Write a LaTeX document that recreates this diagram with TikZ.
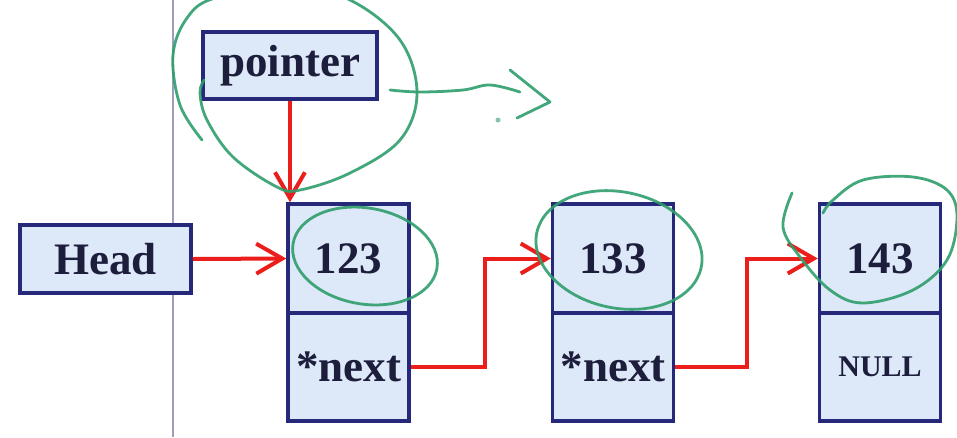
\documentclass[tikz,border=0pt]{standalone}
\usepackage{fontspec}
\setmainfont{Liberation Serif}
\usetikzlibrary{arrows.meta}
\definecolor{boxfill}{RGB}{221,232,248}
\definecolor{boxline}{RGB}{38,40,122}
\definecolor{txt}{RGB}{28,30,60}
\definecolor{redarrow}{RGB}{236,30,28}
\definecolor{pen}{RGB}{46,158,108}
\definecolor{rule}{RGB}{160,156,192}
\begin{document}
\begin{tikzpicture}[x=1pt,y=-1pt,
  cell/.style={draw=boxline,line width=3.5pt,fill=boxfill,text=txt,inner sep=0pt,
    font=\fontsize{45}{50}\selectfont\bfseries},
  link/.style={draw=redarrow,line width=4pt,-{Straight Barb[length=26pt,width=30pt,line width=4pt]}},
  ink/.style={draw=pen,line width=2.8pt,line cap=round,line join=round,opacity=0.9}]
\useasboundingbox (0,0) rectangle (957,437);
\fill[white] (0,0) rectangle (957,437);
% vertical rule
\draw[rule,line width=2.5pt] (173,0) -- (173,437);
% boxes
\node[cell,minimum width=174pt,minimum height=67pt] (pointer) at (290,65.5) {pointer};
\node[cell,minimum width=171pt,minimum height=68pt] (head) at (105.5,259) {Head};
\node[cell,minimum width=121pt,minimum height=109pt] (n1top) at (348.5,258.5) {123};
\node[cell,minimum width=121pt,minimum height=108pt] (n1bot) at (348.5,367) {*next};
\node[cell,minimum width=121pt,minimum height=109pt] (n2top) at (613,258.5) {133};
\node[cell,minimum width=121pt,minimum height=108pt] (n2bot) at (613,367) {*next};
\node[cell,minimum width=121pt,minimum height=109pt] (n3top) at (880,258.5) {143};
\node[cell,minimum width=121pt,minimum height=108pt,font=\fontsize{30}{34}\selectfont\bfseries] (n3bot) at (880,367) {NULL};
% red connectors
\draw[link] (pointer.south) -- (pointer.south |- n1top.north);
\draw[link] (head.east) -- (n1top.west);
\draw[link] (n1bot.east) -- ++(74,0) |- (n2top.west);
\draw[link] (n2bot.east) -- ++(72,0) |- (n3top.west);
% green annotations
\draw[ink] plot[smooth,tension=0.6] coordinates {(202,140) (180,105) (173,55) (187,18) (215,-2) (290,-14) (350,0) (400,40) (417,93) (400,140) (350,173) (300,190) (277,187) (233,157) (207,120) (200,93) (204,80)};
\draw[ink] plot[smooth,tension=0.6] coordinates {(390,90) (420,92) (463,90) (490,85) (520,92)};
\draw[ink] (510,70) -- (550,102) -- (517,118);
\fill[pen,opacity=0.6] (498,120) circle (2.5pt);
\draw[ink] (365,256) ellipse[x radius=73pt,y radius=48pt,rotate=-10];
\draw[ink] (619,250) ellipse[x radius=84pt,y radius=58pt,rotate=-12];
\draw[ink] plot[smooth,tension=0.6] coordinates {(792,193) (783,227) (800,257) (830,290) (863,303) (913,290) (947,260) (957,217) (947,190) (913,177) (863,180) (833,200) (823,213)};
\end{tikzpicture}
\end{document}
